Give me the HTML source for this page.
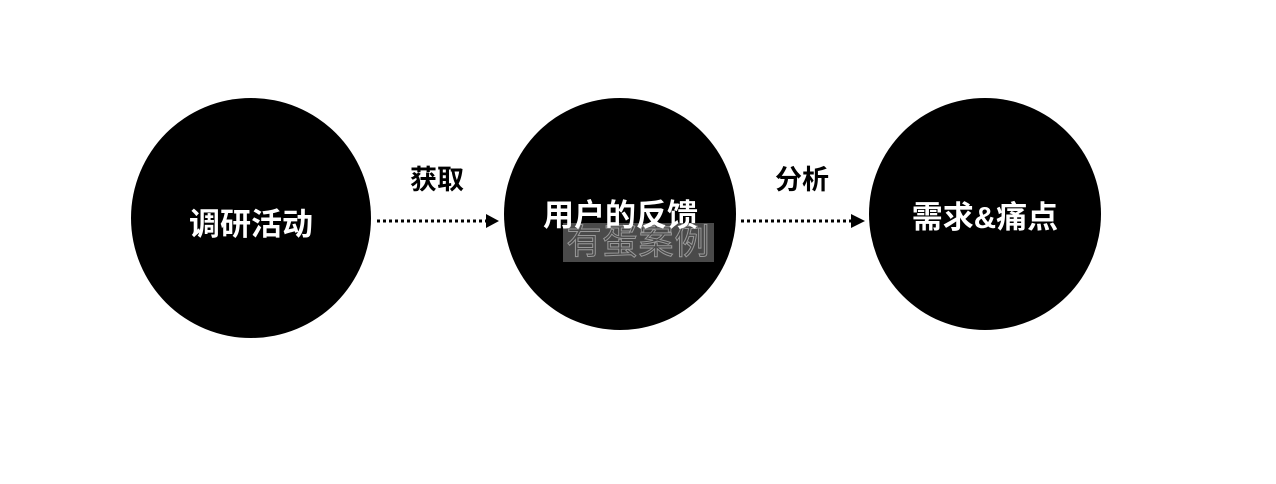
<!DOCTYPE html>
<html><head><meta charset="utf-8"><style>
body{margin:0;width:1276px;height:484px;background:#fff;position:relative;overflow:hidden;font-family:"Liberation Sans","Noto Sans CJK SC",sans-serif}
.c{position:absolute;border-radius:50%;background:#000;color:#fff;font-weight:bold;font-size:31px;display:flex;align-items:center;justify-content:center}
.t{position:absolute;color:#fff;font-weight:bold;font-size:31px;z-index:2;white-space:nowrap;line-height:40px}
.l{position:absolute;font-weight:bold;font-size:27px;color:#000;line-height:34px}
.wm{position:absolute;left:563px;top:223px;width:151px;height:39px;background:#4a4a4a;font-size:35px;line-height:39px;text-align:center;color:#4a4a4a;-webkit-text-stroke:1px #999;letter-spacing:1px;white-space:nowrap;z-index:1}
</style></head><body>
<div class="c" style="left:131px;top:98px;width:240px;height:240px;padding-top:6px;box-sizing:border-box">调研活动</div>
<div class="c" style="left:504px;top:98px;width:232px;height:232px;box-sizing:border-box"></div>
<div class="c" style="left:869px;top:98px;width:232px;height:232px;box-sizing:border-box">需求&amp;痛点</div>
<div class="wm">有蛋案例</div>
<div class="t" style="left:543px;top:196px">用户的反馈</div>
<div class="l" style="left:410px;top:163px">获取</div>
<div class="l" style="left:775px;top:163px">分析</div>
<svg width="1276" height="484" style="position:absolute;left:0;top:0">
<line x1="377" y1="221" x2="487" y2="221" stroke="#000" stroke-width="3" stroke-dasharray="3,3"/>
<polygon points="486,214 499,221 486,228" fill="#000"/>
<line x1="741" y1="221" x2="852" y2="221" stroke="#000" stroke-width="3" stroke-dasharray="3,3"/>
<polygon points="851,214 865,221 851,228" fill="#000"/>
</svg>
</body></html>
